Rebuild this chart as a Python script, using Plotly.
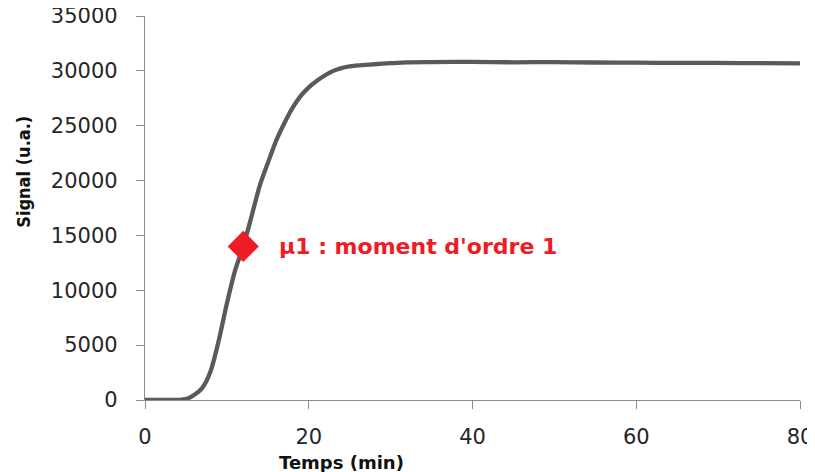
import plotly.graph_objects as go

# Courbe de signal
temps = [0, 1, 2, 3, 4, 5, 6, 7, 8, 9, 10, 11, 12, 13, 14, 15, 16, 17, 18, 19,
         20, 21, 22, 23, 24, 25, 26, 28, 30, 32, 35, 40, 45, 50, 55, 60, 65, 70, 75, 80]
signal = [0, 0, 0, 0, 10, 80, 450, 1100, 2600, 5400, 8800, 11800, 14000, 16700, 19500,
          21600, 23600, 25200, 26600, 27700, 28500, 29100, 29600, 30000, 30250, 30400,
          30500, 30600, 30700, 30780, 30800, 30820, 30780, 30800, 30760, 30750, 30720,
          30720, 30700, 30680]

# Point du moment d'ordre 1
mu1_t = [12]
mu1_signal = [14000]
mu1_label = "µ1 : moment d'ordre 1"

x_ticks = [0, 20, 40, 60, 80]
y_ticks = [0, 5000, 10000, 15000, 20000, 25000, 30000, 35000]

fig = go.Figure()
fig.add_trace(go.Scatter(x=temps, y=signal, mode='lines',
                         line=dict(color='#5a5a5a', width=4.3, shape='spline', smoothing=0.8),
                         showlegend=False))
fig.add_trace(go.Scatter(x=mu1_t, y=mu1_signal, mode='markers',
                         marker=dict(symbol='diamond', size=24, color='#ee1c25'),
                         showlegend=False))

fig.add_annotation(x=mu1_t[0], y=mu1_signal[0], text=mu1_label, showarrow=False,
                   xanchor='left', yanchor='middle', xshift=34,
                   font=dict(family='DejaVu Sans', size=22, color='#ee1c25', weight='bold'))

fig.add_annotation(x=0.30, y=-0.13, xref='paper', yref='paper', text='Temps (min)',
                   showarrow=False, xanchor='center', yanchor='top',
                   font=dict(family='DejaVu Sans', size=18, color='#111', weight='bold'))
fig.add_annotation(x=-0.185, y=0.594, xref='paper', yref='paper', text='Signal (u.a.)',
                   showarrow=False, textangle=-90, xanchor='center', yanchor='middle',
                   font=dict(family='DejaVu Sans Condensed', size=18, color='#111', weight='bold'))

axis_common = dict(showgrid=False, zeroline=False, showline=True, linecolor='#8c8c8c',
                   linewidth=1.3, ticks='outside', tickcolor='#8c8c8c', ticklen=8,
                   automargin=False, ticklabeloverflow='allow',
                   tickfont=dict(family='DejaVu Sans', size=21, color='#262626'))

fig.update_xaxes(range=[0, 80], tickvals=x_ticks, ticklabelstandoff=10, **axis_common)
fig.update_yaxes(range=[0, 35000], tickvals=y_ticks, tickformat='d',
                 ticklabelstandoff=14, **axis_common)

# la page ajoute une marge de 8 px autour de la figure
fig.update_layout(width=807, height=464, plot_bgcolor='white', paper_bgcolor='white',
                  margin=dict(l=137, r=15, t=8, b=72))

fig.write_html("out.html")
